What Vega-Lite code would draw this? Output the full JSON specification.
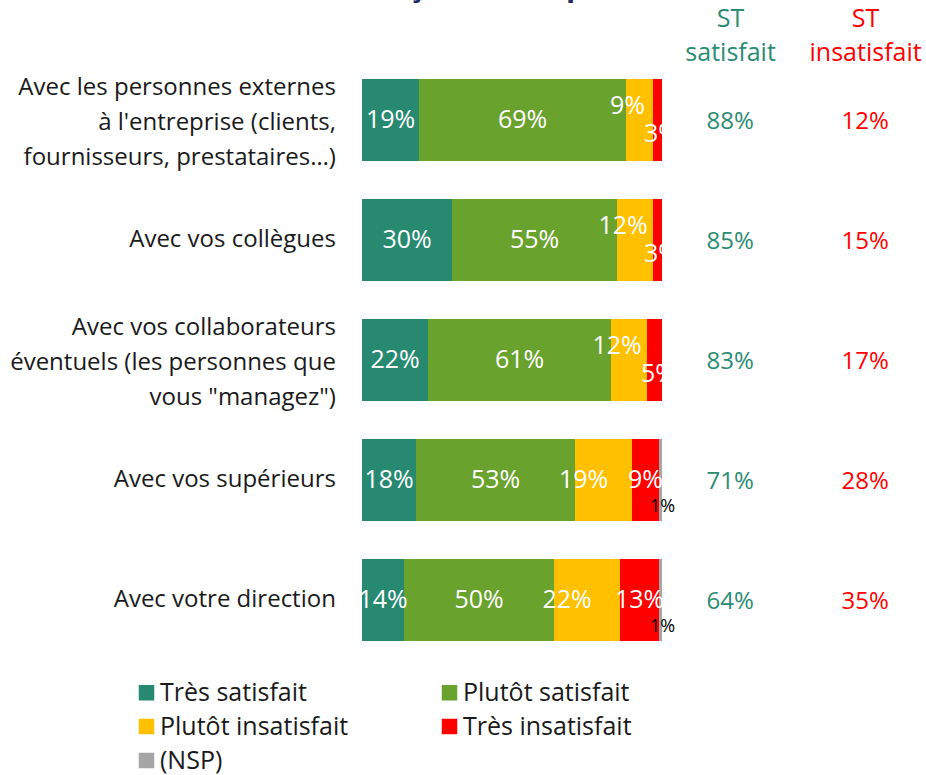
{
  "$schema": "https://vega.github.io/schema/vega-lite/v6.json",
  "autosize": "none",
  "padding": {"left": 362, "top": 60, "right": 0, "bottom": 115},
  "width": 564,
  "height": 600,
  "background": "white",
  "title": {"text": "Français en emploi", "frame": "group", "anchor": "start", "align": "center", "dx": 119, "dy": 0, "offset": -20, "fontSize": 30, "font": "Open Sans", "fontWeight": "bold", "color": "#1F2A6B", "baseline": "alphabetic"},
  "config": {"view": {"stroke": null}, "font": "Open Sans"},
  "datasets": {
    "bars": [
      {"q": "Q1", "cat": "Très satisfait", "o": 1, "value": 0.19},
      {"q": "Q1", "cat": "Plutôt satisfait", "o": 2, "value": 0.69},
      {"q": "Q1", "cat": "Plutôt insatisfait", "o": 3, "value": 0.09},
      {"q": "Q1", "cat": "Très insatisfait", "o": 4, "value": 0.03},
      {"q": "Q1", "cat": "(NSP)", "o": 5, "value": 0},
      {"q": "Q2", "cat": "Très satisfait", "o": 1, "value": 0.30},
      {"q": "Q2", "cat": "Plutôt satisfait", "o": 2, "value": 0.55},
      {"q": "Q2", "cat": "Plutôt insatisfait", "o": 3, "value": 0.12},
      {"q": "Q2", "cat": "Très insatisfait", "o": 4, "value": 0.03},
      {"q": "Q2", "cat": "(NSP)", "o": 5, "value": 0},
      {"q": "Q3", "cat": "Très satisfait", "o": 1, "value": 0.22},
      {"q": "Q3", "cat": "Plutôt satisfait", "o": 2, "value": 0.61},
      {"q": "Q3", "cat": "Plutôt insatisfait", "o": 3, "value": 0.12},
      {"q": "Q3", "cat": "Très insatisfait", "o": 4, "value": 0.05},
      {"q": "Q3", "cat": "(NSP)", "o": 5, "value": 0},
      {"q": "Q4", "cat": "Très satisfait", "o": 1, "value": 0.18},
      {"q": "Q4", "cat": "Plutôt satisfait", "o": 2, "value": 0.53},
      {"q": "Q4", "cat": "Plutôt insatisfait", "o": 3, "value": 0.19},
      {"q": "Q4", "cat": "Très insatisfait", "o": 4, "value": 0.09},
      {"q": "Q4", "cat": "(NSP)", "o": 5, "value": 0.01},
      {"q": "Q5", "cat": "Très satisfait", "o": 1, "value": 0.14},
      {"q": "Q5", "cat": "Plutôt satisfait", "o": 2, "value": 0.50},
      {"q": "Q5", "cat": "Plutôt insatisfait", "o": 3, "value": 0.22},
      {"q": "Q5", "cat": "Très insatisfait", "o": 4, "value": 0.13},
      {"q": "Q5", "cat": "(NSP)", "o": 5, "value": 0.01}
    ],
    "rows": [
      {"q": "Q1", "label": "Avec les personnes externes\nà l'entreprise (clients,\nfournisseurs, prestataires…)", "lines": 3, "sat": 0.88, "insat": 0.12},
      {"q": "Q2", "label": "Avec vos collègues", "lines": 1, "sat": 0.85, "insat": 0.15},
      {"q": "Q3", "label": "Avec vos collaborateurs\néventuels (les personnes que\nvous \"managez\")", "lines": 3, "sat": 0.83, "insat": 0.17},
      {"q": "Q4", "label": "Avec vos supérieurs", "lines": 1, "sat": 0.71, "insat": 0.28},
      {"q": "Q5", "label": "Avec votre direction", "lines": 1, "sat": 0.64, "insat": 0.35}
    ]
  },
  "layer": [
    {
      "data": {"name": "bars"},
      "transform": [
        {"stack": "value", "groupby": ["q"], "sort": [{"field": "o"}], "as": ["x0", "x1"]}
      ],
      "mark": {"type": "bar"},
      "encoding": {
        "y": {"field": "q", "type": "nominal", "axis": null, "scale": {"type": "band", "paddingInner": 0.317, "paddingOuter": 0.1585}},
        "x": {"field": "x0", "type": "quantitative", "scale": {"domain": [0, 1.88], "nice": false, "zero": false},
          "axis": {"orient": "top", "values": [1.227, 1.677], "labelExpr": "datum.value < 1.5 ? ['ST','satisfait'] : ['ST','insatisfait']",
            "labelColor": {"condition": {"test": "datum.value < 1.5", "value": "#2A8C72"}, "value": "#FF0000"},
            "domain": false, "ticks": false, "grid": false, "title": null, "labelFontSize": 25, "labelLineHeight": 34,
            "labelPadding": 29, "labelFont": "Open Sans", "labelFlush": false, "labelOverlap": false, "labelBaseline": "bottom"}},
        "x2": {"field": "x1"},
        "color": {"field": "cat", "type": "nominal",
          "scale": {"domain": ["Très satisfait", "Plutôt satisfait", "Plutôt insatisfait", "Très insatisfait", "(NSP)"],
                    "range": ["#278A70", "#6AA22E", "#FFC000", "#FF0000", "#A5A5A5"]},
          "legend": {"title": null, "orient": "none", "legendX": -228, "legendY": 620, "columns": 2, "direction": "horizontal",
                     "symbolType": "square", "symbolSize": 240, "symbolStrokeWidth": 0, "labelFontSize": 25, "labelFont": "Open Sans",
                     "labelColor": "#1a1a1a", "columnPadding": 88, "rowPadding": 8, "labelOffset": 1, "labelLimit": 400}}
      }
    },
    {
      "data": {"name": "bars"},
      "transform": [
        {"stack": "value", "groupby": ["q"], "sort": [{"field": "o"}], "as": ["x0", "x1"]},
        {"calculate": "(datum.x0 + datum.x1) / 2", "as": "mid"},
        {"filter": "datum.value > 0 && (datum.o <= 2 || (datum.o == 4 && datum.value >= 0.06))"}
      ],
      "mark": {"type": "text", "color": "white", "fontSize": 25, "font": "Open Sans", "clip": true},
      "encoding": {
        "y": {"field": "q", "type": "nominal"},
        "x": {"field": "mid", "type": "quantitative"},
        "text": {"field": "value", "format": ".0%"}
      }
    },
    {
      "data": {"name": "bars"},
      "transform": [
        {"stack": "value", "groupby": ["q"], "sort": [{"field": "o"}], "as": ["x0", "x1"]},
        {"calculate": "(datum.x0 + datum.x1) / 2", "as": "mid"},
        {"filter": "datum.o == 3 && datum.value >= 0.15"}
      ],
      "mark": {"type": "text", "color": "white", "fontSize": 25, "font": "Open Sans", "dx": -20, "clip": true},
      "encoding": {
        "y": {"field": "q", "type": "nominal"},
        "x": {"field": "mid", "type": "quantitative"},
        "text": {"field": "value", "format": ".0%"}
      }
    },
    {
      "data": {"name": "bars"},
      "transform": [
        {"stack": "value", "groupby": ["q"], "sort": [{"field": "o"}], "as": ["x0", "x1"]},
        {"calculate": "(datum.x0 + datum.x1) / 2", "as": "mid"},
        {"filter": "datum.o == 3 && datum.value < 0.15"}
      ],
      "mark": {"type": "text", "color": "white", "fontSize": 25, "font": "Open Sans", "dy": -14, "dx": -12, "clip": true},
      "encoding": {
        "y": {"field": "q", "type": "nominal"},
        "x": {"field": "mid", "type": "quantitative"},
        "text": {"field": "value", "format": ".0%"}
      }
    },
    {
      "data": {"name": "bars"},
      "transform": [
        {"stack": "value", "groupby": ["q"], "sort": [{"field": "o"}], "as": ["x0", "x1"]},
        {"calculate": "(datum.x0 + datum.x1) / 2", "as": "mid"},
        {"filter": "datum.o == 4 && datum.value < 0.06"}
      ],
      "mark": {"type": "text", "color": "white", "fontSize": 25, "font": "Open Sans", "dy": 14, "dx": 4, "clip": true},
      "encoding": {
        "y": {"field": "q", "type": "nominal"},
        "x": {"field": "mid", "type": "quantitative"},
        "text": {"field": "value", "format": ".0%"}
      }
    },
    {
      "data": {"name": "bars"},
      "transform": [
        {"stack": "value", "groupby": ["q"], "sort": [{"field": "o"}], "as": ["x0", "x1"]},
        {"calculate": "(datum.x0 + datum.x1) / 2", "as": "mid"},
        {"filter": "datum.o == 5 && datum.value > 0"}
      ],
      "mark": {"type": "text", "color": "black", "fontSize": 18, "font": "Open Sans", "dy": 27, "dx": 2},
      "encoding": {
        "y": {"field": "q", "type": "nominal"},
        "x": {"field": "mid", "type": "quantitative"},
        "text": {"field": "value", "format": ".0%"}
      }
    },
    {
      "data": {"name": "rows"},
      "transform": [{"filter": "datum.lines == 1"}],
      "mark": {"type": "text", "align": "right", "baseline": "middle", "fontSize": 24, "font": "Open Sans", "color": "#1a1a1a"},
      "encoding": {
        "y": {"field": "q", "type": "nominal"},
        "x": {"datum": -0.087},
        "text": {"field": "label"}
      }
    },
    {
      "data": {"name": "rows"},
      "transform": [{"filter": "datum.lines == 3"}],
      "mark": {"type": "text", "align": "right", "baseline": "middle", "fontSize": 24, "font": "Open Sans", "color": "#1a1a1a", "lineBreak": "\n", "lineHeight": 35, "dy": -32},
      "encoding": {
        "y": {"field": "q", "type": "nominal"},
        "x": {"datum": -0.087},
        "text": {"field": "label"}
      }
    },
    {
      "data": {"name": "rows"},
      "mark": {"type": "text", "align": "center", "baseline": "middle", "fontSize": 24, "font": "Open Sans", "color": "#2A8C72", "dy": 2},
      "encoding": {
        "y": {"field": "q", "type": "nominal"},
        "x": {"datum": 1.227},
        "text": {"field": "sat", "format": ".0%"}
      }
    },
    {
      "data": {"name": "rows"},
      "mark": {"type": "text", "align": "center", "baseline": "middle", "fontSize": 24, "font": "Open Sans", "color": "#FF0000", "dy": 2},
      "encoding": {
        "y": {"field": "q", "type": "nominal"},
        "x": {"datum": 1.677},
        "text": {"field": "insat", "format": ".0%"}
      }
    }
  ]
}
